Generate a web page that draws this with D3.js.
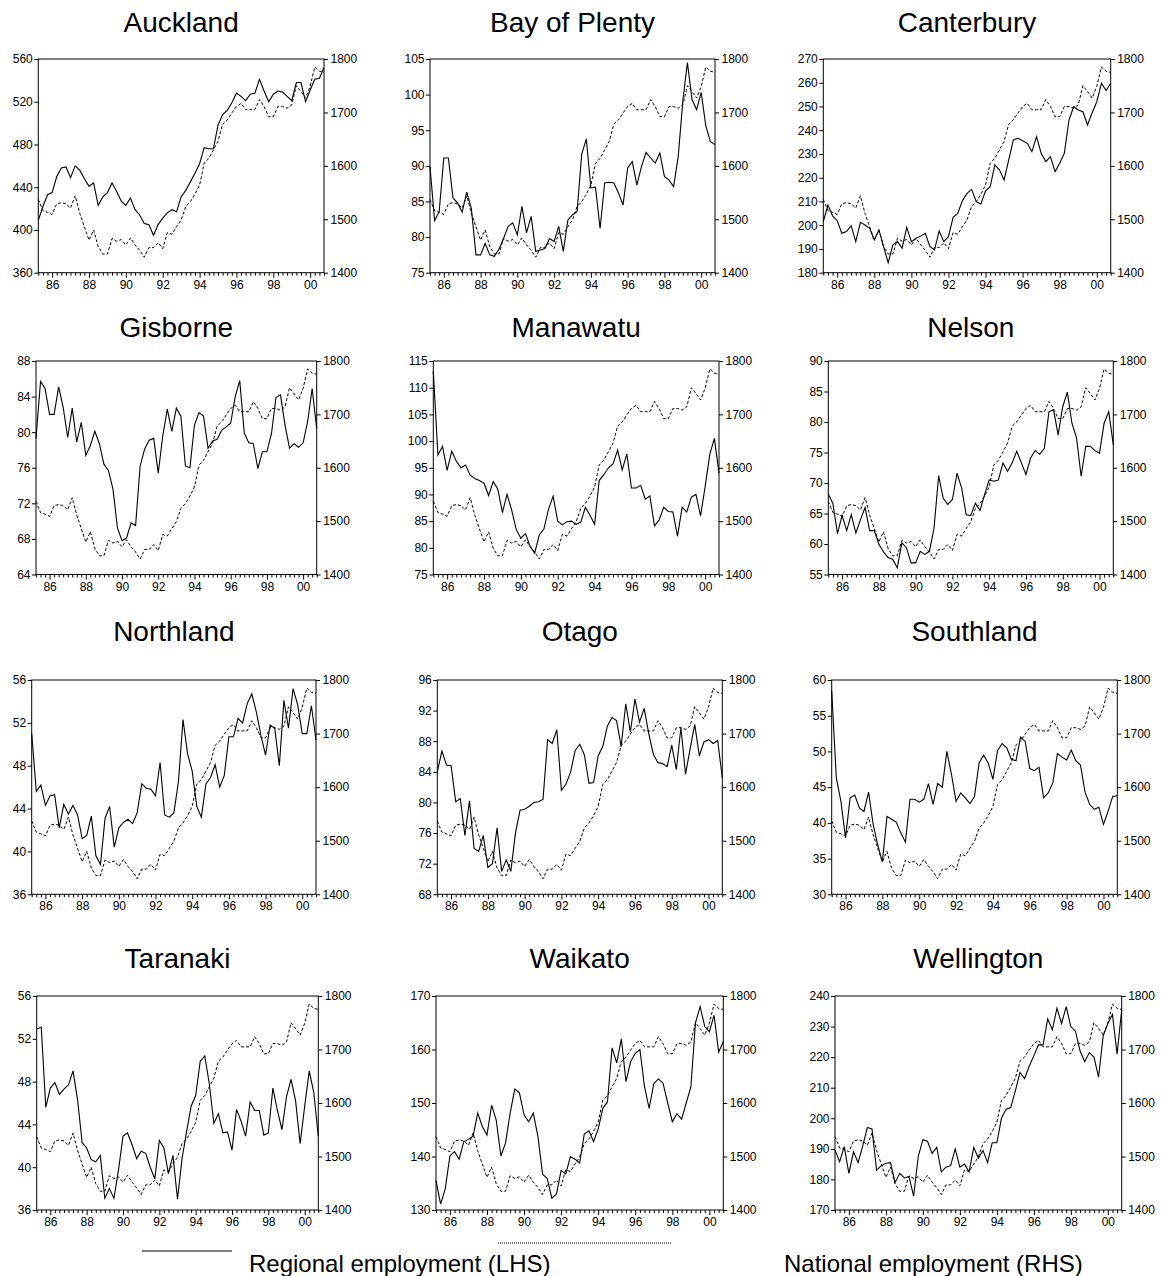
<!DOCTYPE html>
<html><head><meta charset="utf-8">
<script src="https://cdn.jsdelivr.net/npm/d3@7"></script>
<style>
body{margin:0;background:#fff;}
svg{display:block;font-family:"Liberation Sans",Arial,sans-serif;}
</style></head><body>
<svg id="chart" width="1161" height="1276"></svg>
<script>
// ---------- DATA ----------
const quarters = ["1985Q2","1985Q3","1985Q4",
"1986Q1","1986Q2","1986Q3","1986Q4","1987Q1","1987Q2","1987Q3","1987Q4",
"1988Q1","1988Q2","1988Q3","1988Q4","1989Q1","1989Q2","1989Q3","1989Q4",
"1990Q1","1990Q2","1990Q3","1990Q4","1991Q1","1991Q2","1991Q3","1991Q4",
"1992Q1","1992Q2","1992Q3","1992Q4","1993Q1","1993Q2","1993Q3","1993Q4",
"1994Q1","1994Q2","1994Q3","1994Q4","1995Q1","1995Q2","1995Q3","1995Q4",
"1996Q1","1996Q2","1996Q3","1996Q4","1997Q1","1997Q2","1997Q3","1997Q4",
"1998Q1","1998Q2","1998Q3","1998Q4","1999Q1","1999Q2","1999Q3","1999Q4",
"2000Q1","2000Q2","2000Q3","2000Q4"];
const yearTickQuarters = ["1986Q1","1988Q1","1990Q1","1992Q1","1994Q1","1996Q1","1998Q1","2000Q1"];
const yearTickLabels = ["86","88","90","92","94","96","98","00"];

const national = [1537,1516,1513,1509,1529,1531,1529,1521,1544,1511,1486,1461,1480,1449,1435,1435,1464,1459,1462,1452,1465,1452,1442,1429,1447,1447,1456,1445,1475,1472,1486,1499,1524,1533,1547,1564,1605,1614,1630,1646,1678,1686,1699,1711,1717,1705,1705,1705,1724,1711,1692,1692,1711,1711,1708,1714,1750,1739,1727,1749,1785,1777,1775];
const nationalTicks = [1400,1500,1600,1700,1800];

const regionNames = ["Auckland","Bay of Plenty","Canterbury","Gisborne","Manawatu","Nelson","Northland","Otago","Southland","Taranaki","Waikato","Wellington"];

const auckland = [409,422,433,435,450,458,459,449,460,456,448,441,444,423,431,435,444,436,427,423,430,419,414,406,405,395,405,411,416,419,417,431,437,445,453,462,477,476,476,498,508,512,519,528,525,521,527,528,541,530,520,527,530,529,525,521,538,538,520,531,541,542,552];
const bayOfPlenty = [89.9,82.3,83.6,91.1,91.1,85.5,84.8,83.5,86.3,84.0,77.5,77.5,79.1,77.5,77.3,78.3,79.8,81.5,82.0,80.3,84.3,80.6,82.9,78.0,78.2,78.4,79.8,79.4,81.5,78.0,82.4,83.1,83.6,91.6,93.8,86.9,87.0,81.2,87.6,87.7,87.6,86.2,84.5,89.7,90.6,87.3,89.9,91.9,91.1,90.4,91.8,88.5,88.0,87.1,91.3,99.1,104.5,99.3,97.9,100.3,95.6,93.4,93.0];
const canterbury = [201.5,208.5,203.9,201.9,196.6,197.3,199.8,193.1,201.2,200.1,198.7,193.8,198.0,191.0,184.2,191.7,193.1,190.3,199.1,193.1,194.5,195.4,196.6,191.0,189.6,197.6,193.1,195.2,203.3,205.0,210.3,213.4,215.1,209.9,208.9,214.5,216.2,225.4,223.3,219.0,227.5,235.9,236.6,235.6,234.5,231.0,237.3,230.3,226.8,228.9,222.6,226.1,230.3,244.3,249.9,248.5,247.8,242.2,247.4,252.0,259.8,256.7,259.8];
const gisborne = [79.3,85.7,84.9,82.0,82.0,85.1,82.8,79.4,82.7,78.9,81.1,77.4,78.5,80.1,78.7,76.4,75.7,73.6,69.2,67.8,68.1,69.8,69.5,76.2,78.1,79.1,79.3,75.4,79.6,82.6,80.1,82.7,81.8,76.2,76.0,80.8,82.2,81.8,78.2,79.0,79.2,80.2,80.6,81.0,84.0,85.8,79.9,78.8,78.7,75.9,77.8,77.8,79.8,83.9,84.2,80.8,78.2,78.7,78.3,78.8,81.2,84.9,80.4];
const manawatu = [113.1,97.4,99.0,94.5,98.1,96.2,95.0,95.5,93.6,93.0,92.6,92.1,89.8,92.4,91.0,86.6,90.0,87.1,83.4,81.8,82.7,80.3,79.0,82.4,83.5,87.2,89.7,85.0,84.3,84.9,85.0,84.4,84.8,87.6,86.1,84.4,92.6,93.7,95.0,95.7,98.3,94.6,97.6,91.2,91.2,91.7,89.1,89.7,84.1,85.2,87.6,86.8,86.7,82.2,87.6,86.7,89.5,90.0,86.0,91.5,97.5,100.5,94.0];
const nelson = [68.2,66.6,61.7,64.7,62.2,64.8,61.8,64.0,66.0,62.2,62.2,60.0,58.7,57.8,57.5,56.1,60.2,59.4,56.9,56.9,58.8,58.3,58.8,62.6,71.2,67.5,66.5,67.3,71.6,69.2,64.8,64.7,66.7,65.5,68.1,70.5,70.3,70.5,73.3,71.9,73.3,75.2,73.3,71.4,74.1,75.3,74.7,75.7,81.7,82.0,77.9,82.5,84.9,79.8,77.4,71.1,76.0,76.0,75.3,74.9,79.8,81.7,76.3];
const northland = [51.0,45.6,46.2,44.3,45.2,45.3,42.2,44.4,43.5,44.3,43.4,41.2,41.5,43.3,39.6,38.8,43.1,44.2,40.4,42.2,42.7,43.0,42.6,43.6,46.3,45.9,45.8,45.2,48.3,43.4,43.2,43.6,46.5,52.3,49.1,47.5,44.2,43.2,46.3,46.9,48.1,46.0,47.1,50.7,50.7,52.4,52.0,53.8,54.7,53.0,50.8,49.0,51.8,51.5,48.0,54.1,51.5,55.2,53.7,51.0,51.0,53.6,50.4];
const otago = [84.0,86.7,84.9,84.8,80.1,80.5,75.7,80.2,74.0,73.6,75.7,71.5,72.0,76.7,71.0,72.5,71.0,76.0,79.0,79.1,79.5,80.0,80.1,80.4,88.2,87.7,89.5,81.6,82.4,84.0,86.8,87.6,86.2,82.5,82.6,86.1,87.3,90.0,91.1,90.7,87.3,92.9,89.2,93.5,90.5,92.3,89.0,86.3,85.2,85.1,84.7,87.5,84.3,89.8,83.7,87.0,90.2,86.1,87.9,88.2,87.7,88.1,83.2];
const southland = [58.5,46.3,43.0,37.9,43.5,43.9,42.1,41.6,44.3,39.8,36.9,34.5,40.9,40.5,40.1,38.6,37.3,43.3,43.3,42.9,43.3,45.5,42.6,45.5,45.0,50.0,46.8,43.0,44.2,43.5,42.7,43.7,48.4,49.5,48.3,46.1,50.1,51.1,50.5,48.9,48.7,52.0,51.4,47.6,47.3,47.8,43.5,44.2,45.6,49.7,49.2,48.8,50.2,48.7,48.1,44.3,42.6,41.9,42.2,39.8,41.6,43.7,43.8];
const taranaki = [52.9,53.1,45.6,47.4,47.9,46.8,47.3,47.7,49.0,46.3,42.3,41.8,40.7,40.5,41.1,37.1,38.0,37.1,39.7,42.9,43.2,42.1,40.8,41.5,41.3,40.0,38.9,42.5,41.8,39.4,41.1,37.0,40.8,43.3,45.7,46.7,49.9,50.4,47.8,44.1,45.0,43.2,43.3,41.6,45.4,44.3,42.9,46.1,45.3,45.3,43.0,43.2,47.4,45.3,43.5,46.6,48.2,46.2,42.2,45.7,49.0,47.0,42.9];
const waikato = [135.5,131.1,134.0,140.1,140.9,139.5,142.8,143.2,143.8,148.1,145.6,144.0,149.6,146.8,140.1,142.5,148.1,152.6,151.9,147.8,146.5,148.1,143.7,136.7,135.9,132.2,133.0,137.4,136.7,140.0,139.5,138.8,144.2,144.8,142.8,145.1,149.0,150.2,160.3,157.5,162.0,154.0,157.7,159.3,160.0,153.0,149.0,153.6,154.5,153.7,150.0,146.5,148.0,147.0,150.0,153.0,165.0,168.0,164.3,163.3,166.4,159.5,161.5];
const wellington = [189.6,185.8,190.7,182.0,189.0,185.5,191.0,197.0,196.5,183.0,184.5,185.3,185.5,179.0,182.0,180.5,181.0,174.5,187.5,193.0,192.5,188.5,190.5,182.5,184.0,184.5,190.0,184.0,185.0,182.5,190.5,187.0,189.5,185.5,192.0,192.0,200.0,203.0,203.5,209.0,215.0,213.0,217.0,220.5,224.0,224.0,232.5,229.0,236.0,231.0,236.5,230.0,228.5,222.0,218.5,221.5,220.0,213.5,227.0,231.0,234.0,221.0,235.5];

const aucklandTicks = [360,400,440,480,520,560];
const bayOfPlentyTicks = [75,80,85,90,95,100,105];
const canterburyTicks = [180,190,200,210,220,230,240,250,260,270];
const gisborneTicks = [64,68,72,76,80,84,88];
const manawatuTicks = [75,80,85,90,95,100,105,110,115];
const nelsonTicks = [55,60,65,70,75,80,85,90];
const northlandTicks = [36,40,44,48,52,56];
const otagoTicks = [68,72,76,80,84,88,92,96];
const southlandTicks = [30,35,40,45,50,55,60];
const taranakiTicks = [36,40,44,48,52,56];
const waikatoTicks = [130,140,150,160,170];
const wellingtonTicks = [170,180,190,200,210,220,230,240];

const legendLabels = ["Regional employment (LHS)","National employment (RHS)"];

// ---------- LAYOUT ----------
const regionalSeries = [auckland,bayOfPlenty,canterbury,gisborne,manawatu,nelson,northland,otago,southland,taranaki,waikato,wellington];
const regionalTicks = [aucklandTicks,bayOfPlentyTicks,canterburyTicks,gisborneTicks,manawatuTicks,nelsonTicks,northlandTicks,otagoTicks,southlandTicks,taranakiTicks,waikatoTicks,wellingtonTicks];
const rowBox = [{t:59,b:272.7},{t:361,b:574.5},{t:680,b:894.3},{t:996,b:1210}];
const titleBase = [32,337,641,968];
const colBox = [
  [38.3,324],[430,715],[823.3,1110.7],
  [36,316.7],[433.3,719],[828.3,1113.3],
  [31.7,316],[437.3,722.3],[831.7,1117.3],
  [36.7,318.3],[436,723.3],[835,1121.7]
];

const svg = d3.select("#chart");
svg.append("rect").attr("width",1161).attr("height",1276).attr("fill","#fff");

regionNames.forEach((name, k) => {
  const row = Math.floor(k/3);
  const [L,R] = colBox[k];
  const {t:T,b:B} = rowBox[row];
  const ticks = regionalTicks[k];
  const vals = regionalSeries[k];
  const x = d3.scalePoint().domain(quarters).range([L,R]).padding(0);
  const y = d3.scaleLinear().domain([ticks[0], ticks[ticks.length-1]]).range([B,T]);
  const yR = d3.scaleLinear().domain([nationalTicks[0], nationalTicks[nationalTicks.length-1]]).range([B,T]);
  const g = svg.append("g");

  g.append("text").attr("x",(L+R)/2).attr("y",titleBase[row]).attr("text-anchor","middle")
    .attr("font-size",28).attr("fill","#000").text(name);

  // left axis
  const la = g.append("g").attr("transform",`translate(${L},0)`)
    .call(d3.axisLeft(y).tickValues(ticks).tickSize(4).tickPadding(1.5).tickFormat(d3.format("d")));
  // right axis
  const ra = g.append("g").attr("transform",`translate(${R},0)`)
    .call(d3.axisRight(yR).tickValues(nationalTicks).tickSize(4).tickPadding(2.5).tickFormat(d3.format("d")));
  // bottom axis
  const labelMap = new Map(yearTickQuarters.map((q,i)=>[q,yearTickLabels[i]]));
  const ba = g.append("g").attr("transform",`translate(0,${B})`)
    .call(d3.axisBottom(x).tickValues(quarters).tickSize(3).tickPadding(4.5)
      .tickFormat(q => labelMap.get(q) || ""));
  ba.selectAll(".tick line").filter(q => labelMap.has(q)).attr("y2",5);
  [la,ra,ba].forEach(a => {
    a.select(".domain").remove();
    a.selectAll("text").attr("font-size",12).attr("font-family","'Liberation Sans',Arial,sans-serif").attr("fill","#000");
    a.selectAll("line").attr("stroke","#000");
  });

  // national dashed
  g.append("path").datum(national)
    .attr("d", d3.line().x((d,i)=>x(quarters[i])).y(d=>yR(d)))
    .attr("fill","none").attr("stroke","#000").attr("stroke-width",1)
    .attr("stroke-dasharray","3,2");
  // regional solid
  g.append("path").datum(vals)
    .attr("d", d3.line().x((d,i)=>x(quarters[i])).y(d=>y(d)))
    .attr("fill","none").attr("stroke","#000").attr("stroke-width",1.1);

  // frame
  g.append("rect").attr("x",L).attr("y",T).attr("width",R-L).attr("height",B-T)
    .attr("fill","none").attr("stroke","#000").attr("stroke-width",1);
});

// legend
const lg = svg.append("g");
lg.append("line").attr("x1",142).attr("x2",232).attr("y1",1251).attr("y2",1251)
  .attr("stroke","#000").attr("stroke-width",1.2);
lg.append("text").attr("x",249).attr("y",1272).attr("font-size",24).text(legendLabels[0]);
lg.append("line").attr("x1",498).attr("x2",672).attr("y1",1243).attr("y2",1243)
  .attr("stroke","#000").attr("stroke-width",1).attr("stroke-dasharray","1,1");
lg.append("text").attr("x",784).attr("y",1272).attr("font-size",24).text(legendLabels[1]);
</script>
</body></html>
